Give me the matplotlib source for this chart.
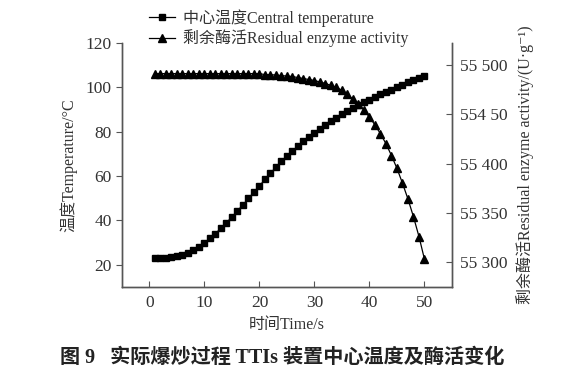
import matplotlib
matplotlib.use("Agg")
import matplotlib.pyplot as plt
from matplotlib.lines import Line2D

plt.rcParams['font.family'] = ['Liberation Serif', 'Noto Sans CJK SC', 'DejaVu Serif']

# Data
time_s = list(range(1, 51))
temperature = [23.0, 23.1, 23.2, 23.4, 23.8, 24.4, 25.3, 26.5, 28.0, 29.9,
               31.9, 34.1, 36.5, 39.0, 41.6, 44.3, 47.1, 49.9, 52.8, 55.6,
               58.5, 61.3, 64.0, 66.6, 69.0, 71.3, 73.5, 75.6, 77.6, 79.5,
               81.3, 83.0, 84.7, 86.3, 87.9, 89.5, 90.8, 92.1, 93.3, 94.5,
               95.7, 96.8, 97.9, 99.0, 100.1, 101.2, 102.3, 103.3, 104.3, 105.3]
enzyme = [55491, 55491, 55491, 55491, 55491, 55491, 55491, 55491, 55491, 55491,
          55491, 55491, 55491, 55491, 55491, 55491, 55491, 55491, 55491, 55491,
          55490, 55490, 55489.5, 55489, 55488.5, 55488, 55487, 55486, 55485, 55484,
          55482.5, 55481, 55479, 55477, 55474, 55470, 55465, 55460, 55454, 55447,
          55439, 55430, 55420, 55408, 55395, 55380, 55364, 55346, 55326, 55303]

temp_ticks = [20, 40, 60, 80, 100, 120]
time_ticks = [0, 10, 20, 30, 40, 50]
enzyme_ticks = [55300, 55350, 55400, 55450, 55500]
enzyme_tick_labels = ["55 300", "55 350", "55 400", "554 50", "55 500"]

ink = "#333333"
spine = "#555555"

fig = plt.figure(figsize=(5.64, 3.86), dpi=100)
ax = fig.add_axes([0.2163, 0.2565, 0.5851, 0.6321])
ax2 = ax.twinx()

ax.plot(time_s, temperature, color="black", lw=0.9, marker="s", ms=4)
ax2.plot(time_s, enzyme, color="black", lw=0.9, marker="^", ms=5.5)

ax.set_xlim(-5, 55)
ax.set_ylim(10, 120)
ax2.set_ylim(55275, 55522)

ax.set_xticks(time_ticks)
ax.set_yticks(temp_ticks)
ax2.set_yticks(enzyme_ticks)
ax2.set_yticklabels(enzyme_tick_labels)

for a in (ax, ax2):
    a.spines["top"].set_visible(False)
    for s in ("left", "right", "bottom"):
        a.spines[s].set_color(spine)
        a.spines[s].set_linewidth(1.0)

ax.tick_params(axis="x", direction="in", length=4, color=spine,
               labelsize=12.5, labelcolor=ink, pad=6)
ax.tick_params(axis="y", direction="out", length=4, color=spine,
               labelsize=12.5, labelcolor=ink)
ax2.tick_params(axis="y", direction="in", length=4, color=spine,
                labelsize=12.5, labelcolor=ink, pad=6)

ax.set_xlabel("时间Time/s", fontsize=11.5, color=ink, labelpad=4)
ax.set_ylabel("温度Temperature/°C", fontsize=11.5, color=ink, labelpad=6)
ax2.set_ylabel("剩余酶活Residual enzyme activity/(U·g⁻¹)", fontsize=11.5,
               color=ink, labelpad=6)

handles = [Line2D([], [], color="black", lw=0.9, marker="s", ms=4),
           Line2D([], [], color="black", lw=0.9, marker="^", ms=5.5)]
labels = ["中心温度Central temperature", "剩余酶活Residual enzyme activity"]
fig.legend(handles, labels, loc="upper left", bbox_to_anchor=(0.245, 1.005),
           frameon=False, fontsize=11.5, handlelength=1.6, handletextpad=0.5,
           labelspacing=0.15, labelcolor=ink, borderpad=0.2)

fig.text(0.5, 0.072, "图 9   实际爆炒过程 TTIs 装置中心温度及酶活变化",
         ha="center", va="center", fontsize=14.5, fontweight="bold",
         color="#222222")

fig.savefig("out.png", dpi=100)
